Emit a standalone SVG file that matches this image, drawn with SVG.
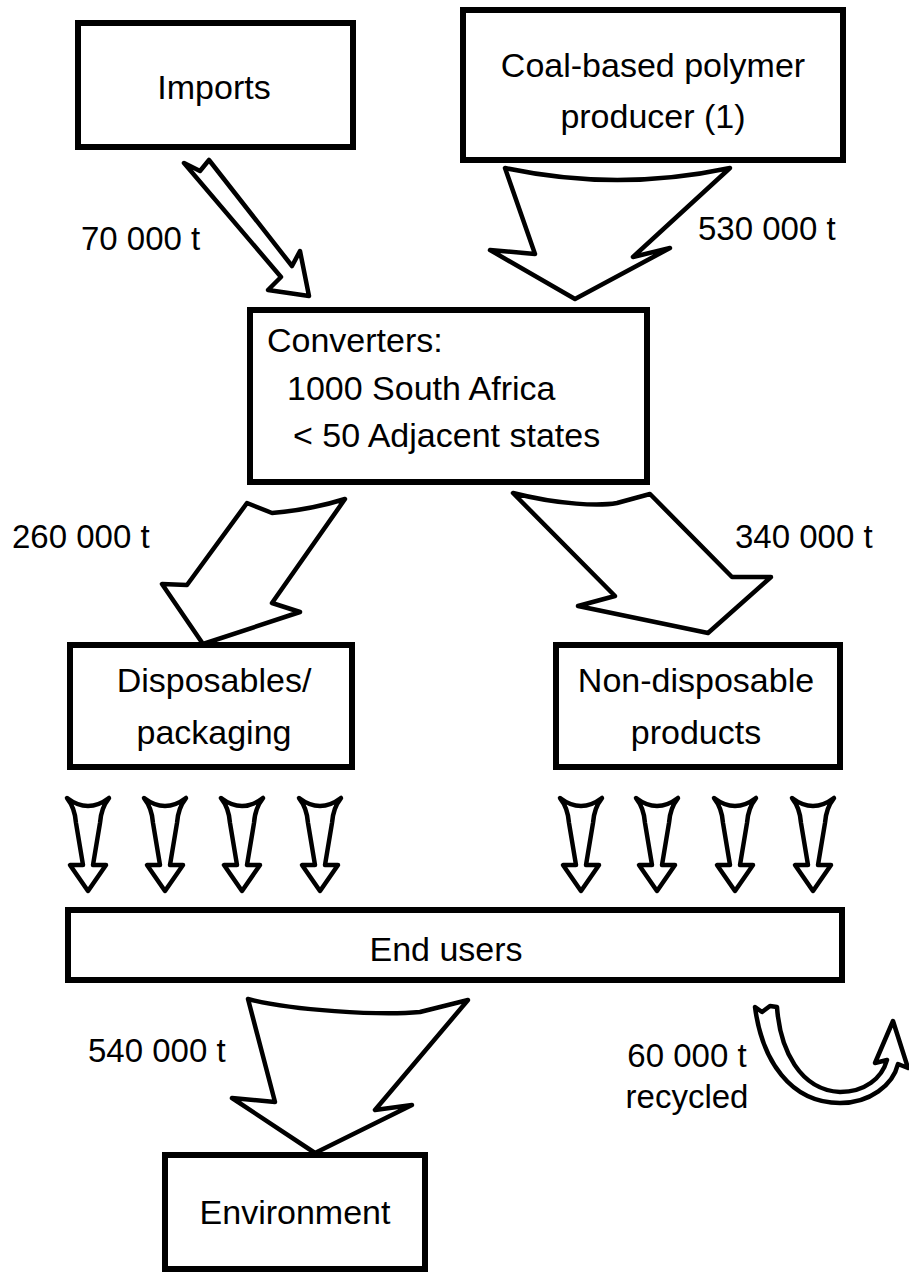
<svg xmlns="http://www.w3.org/2000/svg" xmlns:xlink="http://www.w3.org/1999/xlink" width="909" height="1283" viewBox="0 0 909 1283">
<style>
.box{fill:#fff;stroke:#000;stroke-width:6}
.arr{fill:#fff;stroke:#000;stroke-width:4.5;stroke-linejoin:round}
.t{font-family:"Liberation Sans",Arial,sans-serif;font-size:34px;fill:#000}
.lab{font-family:"Liberation Sans",Arial,sans-serif;font-size:33px;fill:#000}
.c{text-anchor:middle}
</style>
<defs>
<path id="down" class="arr" d="M-21,0 Q0,16 21,0 Q13,10 12,25 L5,67 L18,67 L0,93 L-18,67 L-5,67 L-12,25 Q-13,10 -21,0 Z"/>
</defs>
<rect width="909" height="1283" fill="#fff"/>

<g id="imports">
<rect class="box" x="78" y="23" width="275" height="124"/>
<text class="t c" x="214" y="99">Imports</text>
</g>

<g id="coal-producer">
<rect class="box" x="463" y="10" width="380" height="150"/>
<text class="t c" x="653" y="77">Coal-based polymer</text>
<text class="t c" x="653" y="128">producer (1)</text>
</g>

<g id="converters">
<rect class="box" x="250" y="310" width="397" height="172"/>
<text class="t" x="267" y="352">Converters:</text>
<text class="t" x="287" y="400">1000 South Africa</text>
<text class="t" x="293" y="447">&lt; 50 Adjacent states</text>
</g>

<g id="disposables">
<rect class="box" x="70" y="645" width="282" height="122"/>
<text class="t c" x="214" y="692">Disposables/</text>
<text class="t c" x="214" y="744">packaging</text>
</g>

<g id="non-disposables">
<rect class="box" x="556" y="645" width="284" height="122"/>
<text class="t c" x="696" y="692">Non-disposable</text>
<text class="t c" x="696" y="744">products</text>
</g>

<g id="end-users">
<rect class="box" x="68" y="910" width="774" height="70"/>
<text class="t c" x="446" y="961">End users</text>
</g>

<g id="environment">
<rect class="box" x="165" y="1155" width="260" height="114"/>
<text class="t c" x="295" y="1224">Environment</text>
</g>

<g id="connectors">
<path class="arr" d="M184,163 L200,171 L209,160 L292,266 L300,251 L309,296 L268,290 L281,277 Z"/>
<path class="arr" d="M505,168 Q617,192 730,168 L633,257 L670,248 L575,299 L490,250 L535,254 Z"/>
<path class="arr" d="M247,503 L272,513 Q310,510 345,499 L272,603 L300,612 L203,644 L162,584 L187,585 Z"/>
<path class="arr" d="M513,493 C560,505 600,506 617,503 L650,494 L732,577 L771,577 L708,633 L578,606 L615,596 Z"/>
<use xlink:href="#down" x="88" y="798"/>
<use xlink:href="#down" x="165" y="798"/>
<use xlink:href="#down" x="242" y="798"/>
<use xlink:href="#down" x="320" y="798"/>
<use xlink:href="#down" x="581" y="798"/>
<use xlink:href="#down" x="657" y="798"/>
<use xlink:href="#down" x="735" y="798"/>
<use xlink:href="#down" x="813" y="798"/>
<path class="arr" d="M248,999 C290,1010 380,1016 420,1012 L468,1000 L375,1110 L412,1105 L315,1153 L232,1098 L275,1102 Z"/>
<path class="arr" stroke-width="4" d="M755,1007 L762,1012 L770,1006 L777,1007 C780,1050 800,1090 840,1092 C865,1092 882,1078 887,1060 L875,1063 L893,1021 L908,1068 L898,1064 C893,1085 870,1103 840,1103 C790,1103 762,1060 755,1007 Z"/>
</g>

<g id="labels">
<text class="lab" x="81" y="250">70 000 t</text>
<text class="lab" x="698" y="240">530 000 t</text>
<text class="lab" x="12" y="548">260 000 t</text>
<text class="lab" x="735" y="548">340 000 t</text>
<text class="lab" x="88" y="1062">540 000 t</text>
<text class="lab c" x="687" y="1067">60 000 t</text>
<text class="lab c" x="687" y="1108">recycled</text>
</g>
</svg>
